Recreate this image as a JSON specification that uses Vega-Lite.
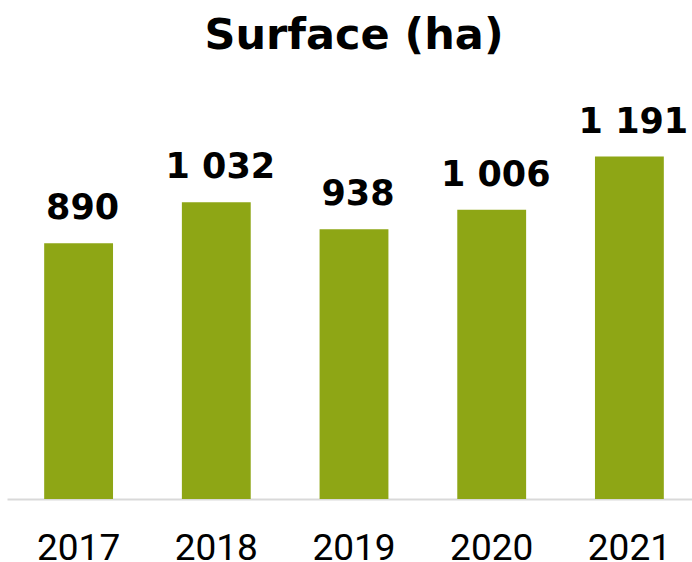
{
  "$schema": "https://vega.github.io/schema/vega-lite/v6.json",
  "autosize": "none",
  "width": 694,
  "height": 345,
  "padding": {"left": 7, "top": 154, "right": 0, "bottom": 63},
  "background": "white",
  "title": {
    "text": "Surface (ha)",
    "font": "DejaVu Sans",
    "fontSize": 43,
    "fontWeight": "bold",
    "color": "#000000",
    "anchor": "middle",
    "frame": "group",
    "offset": 47
  },
  "config": {
    "view": {"stroke": null},
    "locale": {"number": {"decimal": ",", "thousands": " ", "grouping": [3], "currency": ["", " €"]}}
  },
  "data": {
    "values": [
      {"year": "2017", "surface": 890},
      {"year": "2018", "surface": 1032},
      {"year": "2019", "surface": 938},
      {"year": "2020", "surface": 1006},
      {"year": "2021", "surface": 1191}
    ]
  },
  "encoding": {
    "x": {
      "field": "year",
      "type": "nominal",
      "sort": null,
      "scale": {"paddingInner": 0.5, "paddingOuter": 0.27},
      "axis": {
        "title": null,
        "labelAngle": 0,
        "ticks": false,
        "domainColor": "#d9d9d9",
        "domainWidth": 2,
        "labelFont": "Roboto",
        "labelFontSize": 37,
        "labelColor": "#000000",
        "labelPadding": 31
      }
    },
    "y": {
      "field": "surface",
      "type": "quantitative",
      "scale": {"domain": [0, 1200]},
      "axis": null
    }
  },
  "layer": [
    {"mark": {"type": "bar", "color": "#8ea615"}},
    {
      "mark": {"type": "text", "font": "DejaVu Sans", "fontWeight": "bold", "fontSize": 35, "baseline": "alphabetic", "dy": -24, "dx": 4, "color": "#000000"},
      "encoding": {"text": {"field": "surface", "type": "quantitative", "format": ",d"}}
    }
  ]
}
